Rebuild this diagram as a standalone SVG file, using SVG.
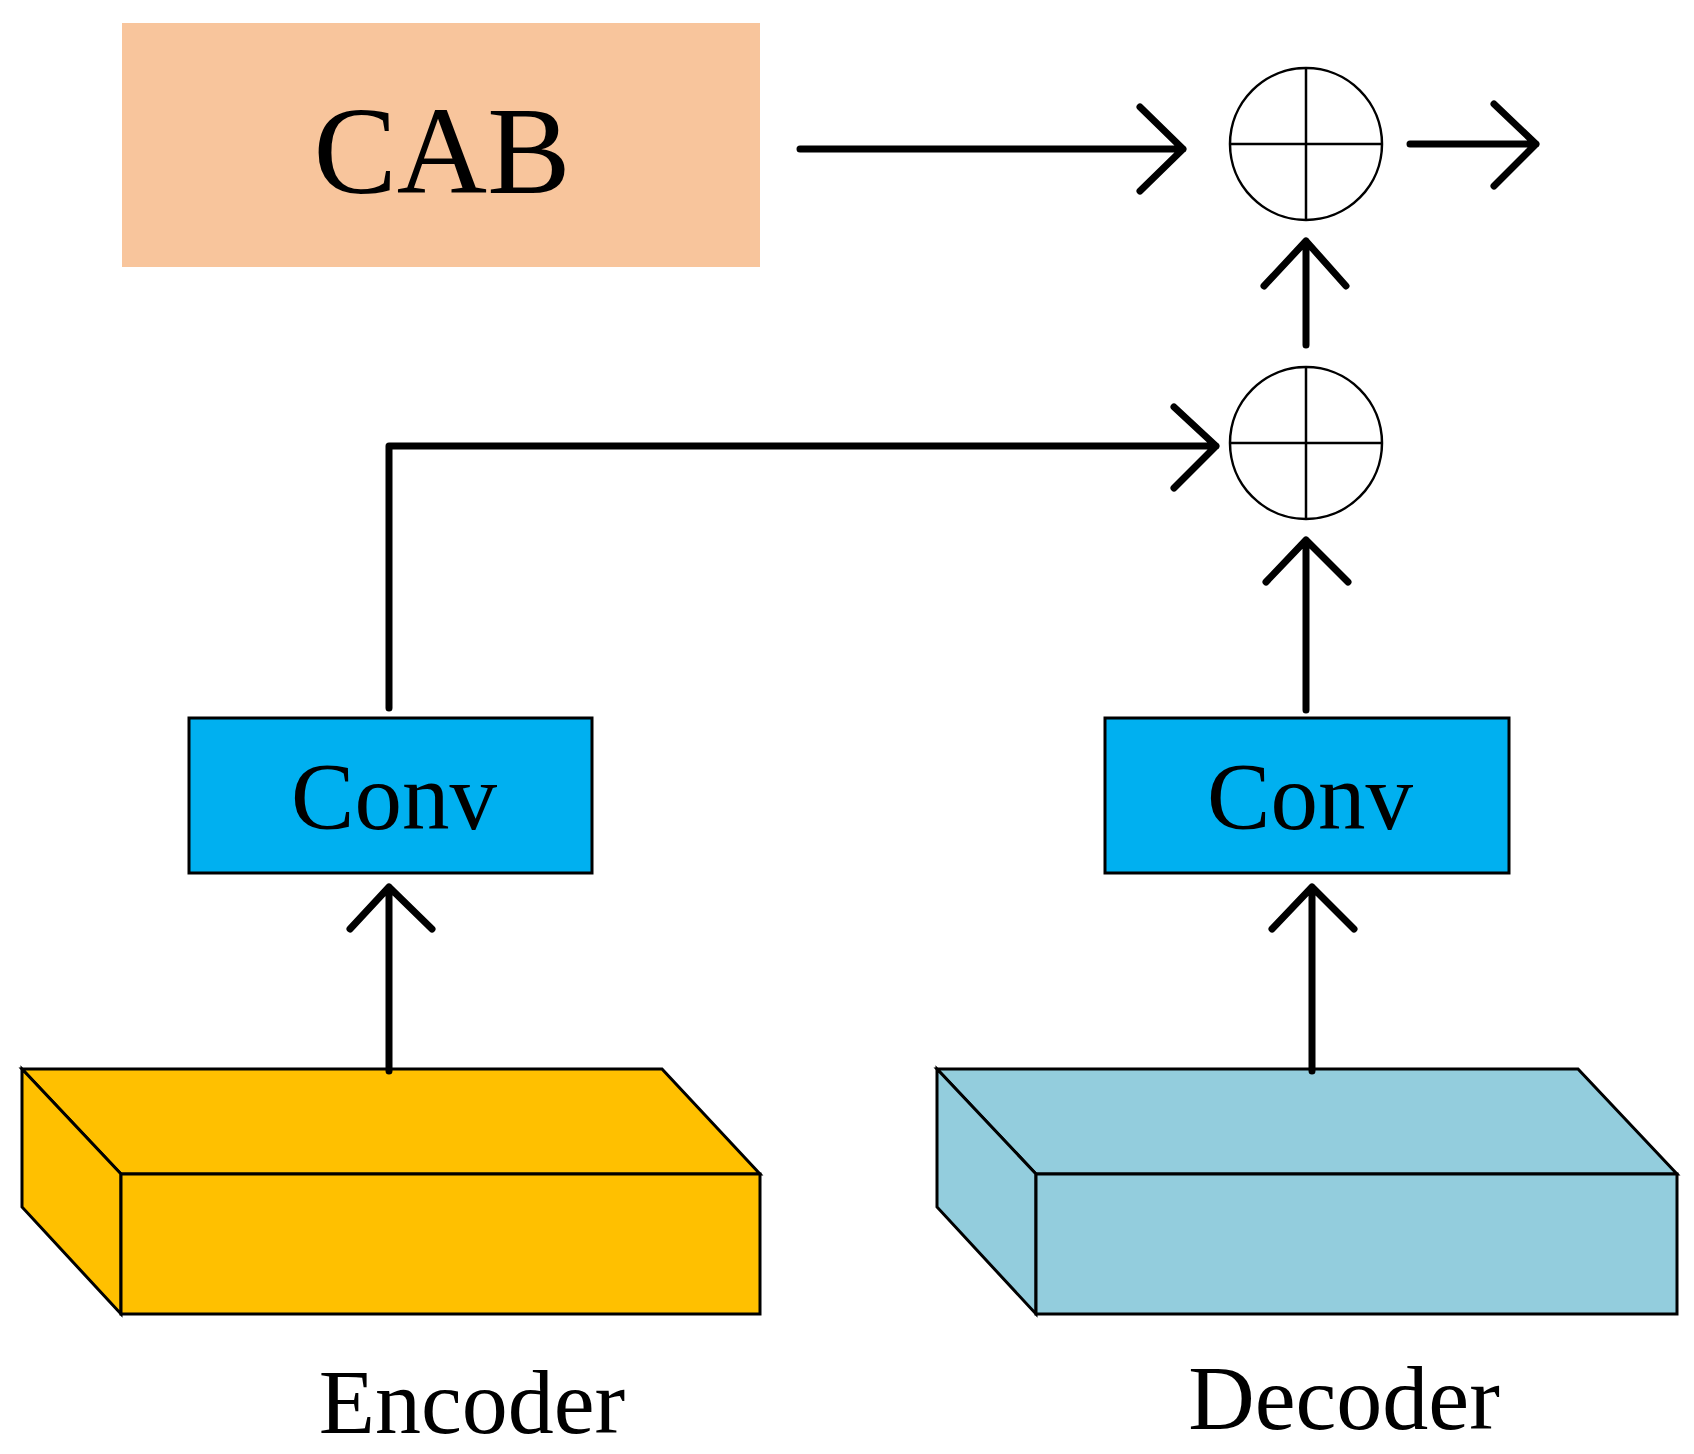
<svg xmlns="http://www.w3.org/2000/svg" width="1694" height="1454" viewBox="0 0 1694 1454">
<style>
.t{font-family:"Liberation Serif",serif;fill:#000;text-anchor:middle}
.ln{fill:none;stroke:#000;stroke-width:7;stroke-linecap:round;stroke-linejoin:round}
.bx{stroke:#000;stroke-width:3}
.op{fill:#fff;stroke:#000;stroke-width:2.5}
</style>
<rect width="1694" height="1454" fill="#fff"/>
<g id="cab"><rect x="122" y="23" width="638" height="244" fill="#F8C59C"/><text class="t" x="442" y="193" font-size="125">CAB</text></g>
<g id="sum1"><circle class="op" cx="1306" cy="144" r="76"/><path class="op" d="M1230 144H1382M1306 68V220"/></g>
<g id="sum2"><circle class="op" cx="1306" cy="443" r="76"/><path class="op" d="M1230 443H1382M1306 367V519"/></g>
<g id="conv1"><rect class="bx" x="189" y="718" width="403" height="155" fill="#00B0F0"/><text class="t" x="394" y="829" font-size="95">Conv</text></g>
<g id="conv2"><rect class="bx" x="1105" y="718" width="404" height="155" fill="#00B0F0"/><text class="t" x="1310" y="829" font-size="95">Conv</text></g>
<g id="encoder" fill="#FFC000"><path class="bx" d="M22 1069H662L760 1174H121Z"/><path class="bx" d="M22 1069L121 1174V1314L22 1207Z"/><rect class="bx" x="121" y="1174" width="639" height="140"/><text class="t" x="472" y="1433" font-size="92">Encoder</text></g>
<g id="decoder" fill="#93CDDD"><path class="bx" d="M937 1069H1578L1677 1174H1036Z"/><path class="bx" d="M937 1069L1036 1174V1314L937 1207Z"/><rect class="bx" x="1036" y="1174" width="641" height="140"/><text class="t" x="1344" y="1429" font-size="92">Decoder</text></g>
<g id="connectors">
<path class="ln" d="M800 149H1183M1140 107L1183 149L1140 191"/>
<path class="ln" d="M1410 144H1536M1494 104L1536 144L1494 186"/>
<path class="ln" d="M1306 345V241M1264 286L1306 241L1346 286"/>
<path class="ln" d="M389 708V446H1216M1174 407L1216 446L1174 488"/>
<path class="ln" d="M1306 710V540M1266 582L1306 540L1348 582"/>
<path class="ln" d="M389 1071V887M350 929L389 887L432 929"/>
<path class="ln" d="M1312 1071V887M1272 929L1312 887L1354 929"/>
</g>
</svg>
